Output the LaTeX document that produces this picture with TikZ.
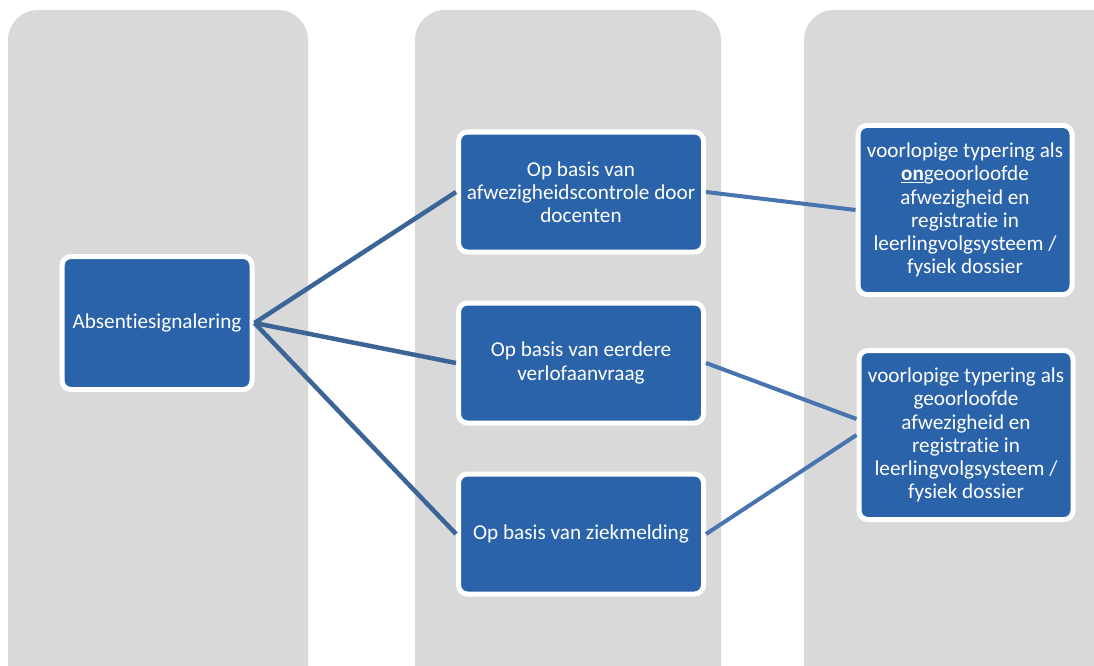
\documentclass[tikz,border=0pt]{standalone}
\usepackage{fontspec}
\setmainfont{Carlito}[Ligatures=NoCommon]
\definecolor{lanegray}{HTML}{D9D9D9}
\definecolor{boxblue}{HTML}{2A63AA}
\definecolor{linkdark}{HTML}{3B6497}
\definecolor{linklight}{HTML}{4874B0}

\begin{document}
\begin{tikzpicture}[x=1pt, y=-1pt,
		lane/.style = {fill=lanegray, rounded corners=30pt},
		box/.style = {shape=rectangle, rounded corners=9pt,
				draw=white, line width=5pt, fill=boxblue,
				text=white, align=center, inner sep=0pt,
				font=\fontsize{21.2}{23.2}\selectfont},
		midbox/.style = {box, minimum width=245pt, minimum height=120pt},
		endbox/.style = {box, minimum width=214pt, minimum height=169pt},
		link/.style = {draw=linkdark, line width=4.5pt},
		sublink/.style = {draw=linklight, line width=4pt}]
	\clip (0,0) rectangle (1094,666);
	% the three grey columns
	\fill[lane] (8,10) rectangle (308,720);
	\fill[lane] (415,10) rectangle (721,720);
	\fill[lane] (804,10) rectangle (1140,720);
	% boxes
	\node[box, minimum width=190pt, minimum height=133pt] (absent) at (157,323) {Absentiesignalering};
	\node[midbox] (control) at (581,192) {Op basis van\\afwezigheidscontrole door\\docenten};
	\node[midbox] (leave) at (581,363) {Op basis van eerdere\\verlofaanvraag};
	\node[midbox] (sick) at (581,534) {Op basis van ziekmelding};
	\node[endbox] (unauth) at (965,210) {voorlopige typering als\\\textbf{\underline{on}}geoorloofde\\afwezigheid en\\registratie in\\leerlingvolgsysteem /\\fysiek dossier};
	\node[endbox] (auth) at (966,435) {voorlopige typering als\\geoorloofde\\afwezigheid en\\registratie in\\leerlingvolgsysteem /\\fysiek dossier};
	% connectors
	\draw[link] (absent.east) -- (control.west);
	\draw[link] (absent.east) -- (leave.west);
	\draw[link] (absent.east) -- (sick.west);
	\draw[sublink] (control.east) -- (unauth.west);
	\draw[sublink] (leave.east) -- ([yshift=16pt]auth.west);
	\draw[sublink] (sick.east) -- (auth.west);
\end{tikzpicture}
\end{document}
